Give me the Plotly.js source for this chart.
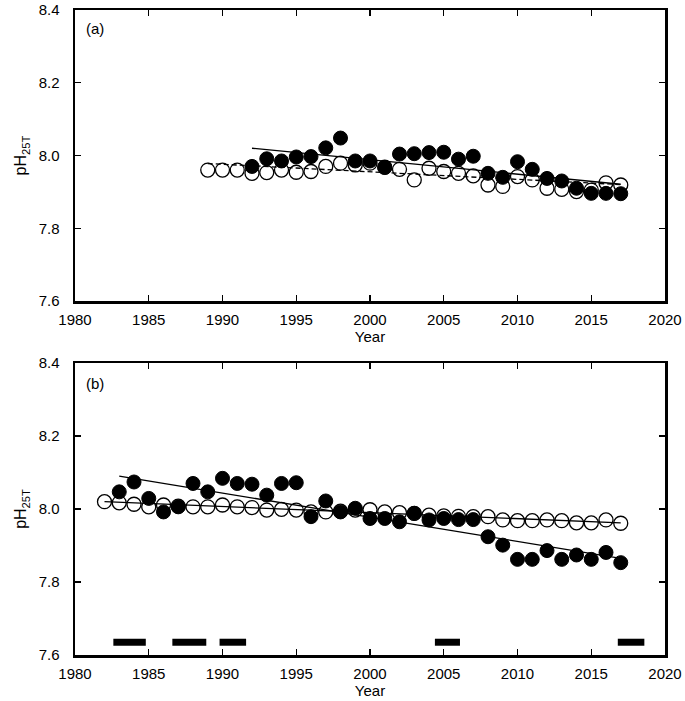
<!DOCTYPE html>
<html>
<head>
<meta charset="utf-8">
<script src="https://cdn.plot.ly/plotly-3.0.1.min.js"></script>
<style>html,body{margin:0;padding:0;background:#fff;}#chart{width:685px;height:701px;}</style>
</head>
<body>
<div id="chart"></div>
<script>
// ---------- Panel (a) ----------
var yearsA_open = [1989,1990,1991,1992,1993,1994,1995,1996,1997,1998,1999,2000,2001,2002,2003,2004,2005,2006,2007,2008,2009,2010,2011,2012,2013,2014,2015,2016,2017];
var phA_open    = [7.960,7.960,7.960,7.951,7.953,7.960,7.954,7.956,7.970,7.979,7.974,7.979,7.968,7.962,7.933,7.965,7.956,7.951,7.944,7.919,7.915,7.942,7.933,7.910,7.907,7.901,7.905,7.925,7.919];
var yearsA_filled = [1992,1993,1994,1995,1996,1997,1998,1999,2000,2001,2002,2003,2004,2005,2006,2007,2008,2009,2010,2011,2012,2013,2014,2015,2016,2017];
var phA_filled    = [7.970,7.991,7.985,7.996,7.997,8.021,8.048,7.985,7.985,7.967,8.004,8.005,8.008,8.009,7.990,7.998,7.951,7.940,7.983,7.962,7.937,7.930,7.910,7.896,7.896,7.895];
var trendA_filled_years = [1992, 2017];
var trendA_filled_ph    = [8.020, 7.921];
var trendA_open_years = [1989, 2017];
var trendA_open_ph    = [7.978, 7.920];

// ---------- Panel (b) ----------
var yearsB_open = [1982,1983,1984,1985,1986,1987,1988,1989,1990,1991,1992,1993,1994,1995,1996,1997,1998,1999,2000,2001,2002,2003,2004,2005,2006,2007,2008,2009,2010,2011,2012,2013,2014,2015,2016,2017];
var phB_open    = [8.020,8.017,8.013,8.006,8.011,8.008,8.006,8.006,8.011,8.006,8.004,7.997,7.999,7.997,7.992,7.992,7.994,7.997,7.998,7.992,7.990,7.988,7.983,7.981,7.980,7.979,7.979,7.970,7.968,7.968,7.970,7.968,7.962,7.962,7.970,7.961];
var yearsB_filled = [1983,1984,1985,1986,1987,1988,1989,1990,1991,1992,1993,1994,1995,1996,1997,1998,1999,2000,2001,2002,2003,2004,2005,2006,2007,2008,2009,2010,2011,2012,2013,2014,2015,2016,2017];
var phB_filled    = [8.047,8.074,8.029,7.992,8.006,8.070,8.047,8.084,8.070,8.068,8.038,8.070,8.072,7.979,8.022,7.992,8.002,7.974,7.974,7.965,7.988,7.970,7.974,7.971,7.971,7.924,7.901,7.862,7.862,7.886,7.862,7.874,7.862,7.881,7.853];
var trendB_filled_years = [1983, 2017];
var trendB_filled_ph    = [8.090, 7.865];
var trendB_open_years = [1982, 2017];
var trendB_open_ph    = [8.020, 7.962];

// Periods marked by black bars
var barStart = [1982.6, 1986.6, 1989.8, 2004.4, 2016.8];
var barEnd   = [1984.8, 1988.9, 1991.6, 2006.1, 2018.6];
var barLevel = 7.635;

var xTicks = [1980,1985,1990,1995,2000,2005,2010,2015,2020];
var yTicks = [7.6,7.8,8.0,8.2,8.4];

var FONT = 'Liberation Sans, Arial, sans-serif';

function openMarkers(x, y, xa, ya) {
  return {x:x, y:y, xaxis:xa, yaxis:ya, mode:'markers', type:'scatter', hoverinfo:'skip',
    marker:{symbol:'circle', size:14, color:'#ffffff', line:{color:'#000', width:1.3}}};
}
function filledMarkers(x, y, xa, ya) {
  return {x:x, y:y, xaxis:xa, yaxis:ya, mode:'markers', type:'scatter', hoverinfo:'skip',
    marker:{symbol:'circle', size:14, color:'#000000', line:{color:'#000', width:1}}};
}
function trendLine(x, y, xa, ya, dash) {
  return {x:x, y:y, xaxis:xa, yaxis:ya, mode:'lines', type:'scatter', hoverinfo:'skip',
    line:{color:'#000', width:1.3, dash:dash}};
}

var bx = [], by = [];
for (var i = 0; i < barStart.length; i++) {
  bx.push(barStart[i], barEnd[i], null);
  by.push(barLevel, barLevel, null);
}

var traces = [
  openMarkers(yearsA_open, phA_open, 'x', 'y'),
  filledMarkers(yearsA_filled, phA_filled, 'x', 'y'),
  trendLine(trendA_filled_years, trendA_filled_ph, 'x', 'y', 'solid'),
  trendLine(trendA_open_years, trendA_open_ph, 'x', 'y', '5px,3px'),
  openMarkers(yearsB_open, phB_open, 'x2', 'y2'),
  filledMarkers(yearsB_filled, phB_filled, 'x2', 'y2'),
  trendLine(trendB_filled_years, trendB_filled_ph, 'x2', 'y2', 'solid'),
  trendLine(trendB_open_years, trendB_open_ph, 'x2', 'y2', 'solid'),
  {x:bx, y:by, xaxis:'x2', yaxis:'y2', mode:'lines', type:'scatter', hoverinfo:'skip',
   line:{color:'#000', width:7}, connectgaps:false}
];

function xAxis(anchor) {
  return {anchor:anchor, range:[1980,2020], tickvals:xTicks, ticktext:xTicks.map(String),
    showline:true, linewidth:2.5, linecolor:'#000', mirror:'ticks',
    ticks:'inside', ticklen:6, tickwidth:1.2, tickcolor:'#000',
    showgrid:false, zeroline:false, ticklabelstandoff:3,
    tickfont:{family:FONT, size:15, color:'#000'},
    title:{text:'Year', font:{family:FONT, size:15, color:'#000'}, standoff:5}};
}
function yAxis(anchor, domain) {
  return {anchor:anchor, domain:domain, range:[7.6,8.4], tickvals:yTicks, ticktext:yTicks.map(function(v){return v.toFixed(1);}),
    showline:true, linewidth:2.5, linecolor:'#000', mirror:'ticks',
    ticks:'inside', ticklen:6, tickwidth:1.2, tickcolor:'#000',
    showgrid:false, zeroline:false, ticklabelstandoff:10,
    tickfont:{family:FONT, size:15, color:'#000'},
    title:{text:'pH<sub>25T</sub>', font:{family:FONT, size:16, color:'#000'}, standoff:8}};
}

var layout = {
  width:685, height:701,
  margin:{l:75, r:20, t:10, b:46},
  paper_bgcolor:'#fff', plot_bgcolor:'#fff',
  showlegend:false,
  xaxis: xAxis('y'),
  yaxis: yAxis('x', [0.5488, 1]),
  xaxis2: xAxis('y2'),
  yaxis2: yAxis('x2', [0, 0.4527]),
  annotations:[
    {text:'(a)', xref:'x', yref:'y', x:1980.6, y:8.35, xanchor:'left', yanchor:'middle', showarrow:false,
     font:{family:FONT, size:15, color:'#000'}},
    {text:'(b)', xref:'x2', yref:'y2', x:1980.6, y:8.344, xanchor:'left', yanchor:'middle', showarrow:false,
     font:{family:FONT, size:15, color:'#000'}}
  ]
};

Plotly.newPlot('chart', traces, layout, {staticPlot:true, displayModeBar:false});
</script>
</body>
</html>
